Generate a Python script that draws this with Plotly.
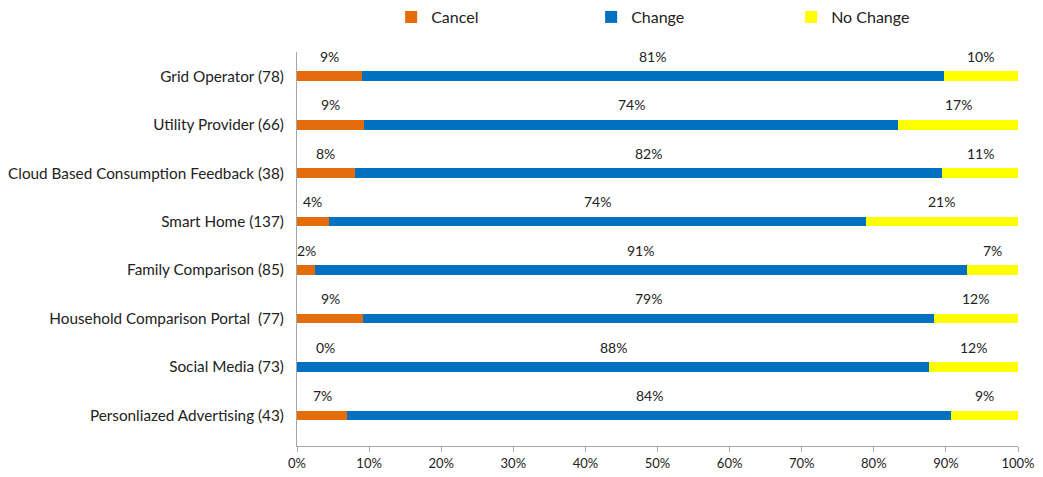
import plotly.graph_objects as go

categories = [
    "Grid Operator (78)",
    "Utility Provider (66)",
    "Cloud Based Consumption Feedback (38)",
    "Smart Home (137)",
    "Family Comparison (85)",
    "Household Comparison Portal  (77)",
    "Social Media (73)",
    "Personliazed Advertising (43)",
]
cancel = [9.0, 9.3, 8.0, 4.4, 2.5, 9.2, 0.0, 7.0]
change = [80.7, 74.1, 81.5, 74.5, 90.4, 79.1, 87.7, 83.7]
no_change = [10.3, 16.6, 10.5, 21.1, 7.1, 11.7, 12.3, 9.3]
cancel_lbl = ["9%", "9%", "8%", "4%", "2%", "9%", "0%", "7%"]
change_lbl = ["81%", "74%", "82%", "74%", "91%", "79%", "88%", "84%"]
nochange_lbl = ["10%", "17%", "11%", "21%", "7%", "12%", "12%", "9%"]

series = [
    ("Cancel", cancel, cancel_lbl, "#E46C0A"),
    ("Change", change, change_lbl, "#0070C0"),
    ("No Change", no_change, nochange_lbl, "#FFFF00"),
]

FONT = "Lato"
fig = go.Figure()
for name, vals, _, col in series:
    fig.add_trace(go.Bar(
        y=categories, x=[v / 100 for v in vals], name=name, orientation="h",
        marker=dict(color=col, line=dict(width=0)),
    ))

annotations = []
base = [0.0] * len(categories)
for name, vals, lbls, col in series:
    for i, (v, l) in enumerate(zip(vals, lbls)):
        cx = (base[i] + v / 2) / 100
        if v == 0:
            cx = base[i] / 100 + 0.04
        annotations.append(dict(
            x=cx, y=categories[i], text=l, showarrow=False, yshift=20,
            font=dict(family=FONT, size=14, color="#222222"),
        ))
        base[i] += v

fig.update_layout(
    barmode="stack",
    bargap=0.8,
    width=1043, height=477,
    margin=dict(l=297, r=25, t=52, b=31, autoexpand=False),
    plot_bgcolor="white", paper_bgcolor="white",
    font=dict(family=FONT, size=15, color="#222222"),
    legend=dict(
        orientation="h", x=0.375, xanchor="left", xref="container",
        y=1.0, yanchor="top", yref="container",
        entrywidth=155, entrywidthmode="pixels",
        font=dict(family=FONT, size=16, color="#222222"), traceorder="normal",
    ),
    xaxis=dict(
        range=[0, 1], tickformat=".0%", dtick=0.1, tick0=0,
        showgrid=False, zeroline=False, showline=True, linecolor="#A6A6A6",
        linewidth=1, ticks="outside", tickcolor="#A6A6A6", ticklen=5,
        tickfont=dict(family=FONT, size=13, color="#222222"),
    ),
    yaxis=dict(
        categoryorder="array", categoryarray=categories, autorange="reversed",
        showgrid=False, zeroline=False, showline=True, linecolor="#A6A6A6",
        linewidth=1, ticks="", ticklabelstandoff=9,
        tickfont=dict(family=FONT, size=15.3, color="#222222"),
    ),
    annotations=annotations,
)

fig.write_html("out.html")
